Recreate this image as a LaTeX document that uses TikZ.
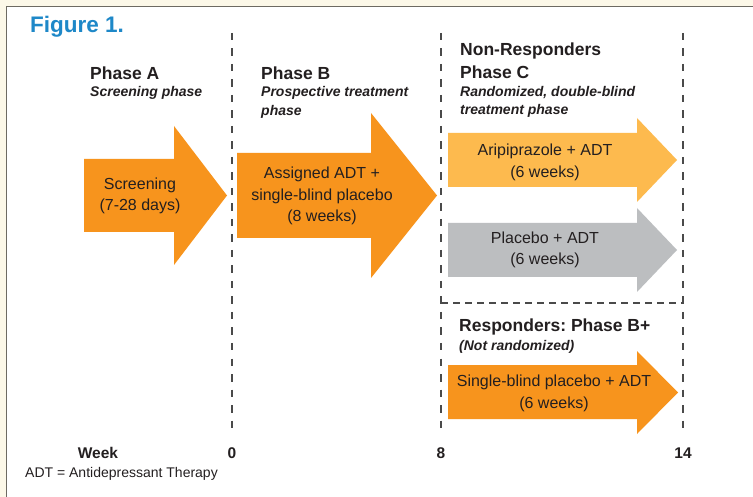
\documentclass[tikz,border=0pt]{standalone}
\usepackage{fontspec}
\setmainfont{Liberation Sans}
\frenchspacing
\definecolor{cream}{HTML}{FCF8E8}
\definecolor{framegrey}{HTML}{6D6A62}
\definecolor{darkor}{HTML}{F7941D}
\definecolor{lightor}{HTML}{FDBA4E}
\definecolor{greyarr}{HTML}{BCBEC0}
\definecolor{titleblue}{HTML}{1E88C8}
\definecolor{dashgrey}{HTML}{4A4A4A}
\definecolor{txt}{HTML}{231F20}
\begin{document}
\begin{tikzpicture}[x=1pt,y=-1pt,
  head/.style={font=\fontsize{17.5}{23}\selectfont\bfseries, anchor=west, inner sep=0pt, align=left, text=txt},
  sub/.style={font=\fontsize{14}{18.5}\selectfont\bfseries\itshape, anchor=west, inner sep=0pt, align=left, text=txt},
  body/.style={font=\fontsize{16}{21.5}\selectfont, align=center, inner sep=0pt, text=txt},
  wk/.style={font=\fontsize{15.5}{18}\selectfont\bfseries, inner sep=0pt, text=txt},
  divider/.style={draw=dashgrey, line width=1.8pt, dash pattern=on 7.5pt off 8pt},
  hdivider/.style={draw=dashgrey, line width=1.8pt, dash pattern=on 7pt off 5pt},
]
\useasboundingbox (0,0) rectangle (753,497);
\fill[cream] (0,0) rectangle (753,497);
\fill[white] (6.5,6.5) rectangle (753,497);
\draw[framegrey, line width=1.5pt] (6.5,497) -- (6.5,6.5) -- (753,6.5);

% title
\node[font=\fontsize{22.5}{24}\selectfont\bfseries, text=titleblue, anchor=west, inner sep=0pt] (title) at (30,27) {Figure 1.};

% dividers
\coordinate (d0t) at (232,33); \coordinate (d0b) at (232,430);
\coordinate (d8t) at (441,33); \coordinate (d8b) at (441,430);
\coordinate (d14t) at (683,33); \coordinate (d14b) at (683,430);
\coordinate (hl) at (441,303); \coordinate (hr) at (683,303);
\draw[divider] (d0t) -- (d0b);
\draw[divider] (d8t) -- (d8b);
\draw[divider] (d14t) -- (d14b);
\draw[hdivider] (hl) -- (hr);

% arrows
\fill[darkor] (84,159) -- (174,159) -- (174,126) -- (227,195.5) -- (174,265) -- (174,232) -- (84,232) -- cycle;
\fill[darkor] (237,153) -- (371,153) -- (371,113) -- (437,195.5) -- (371,278) -- (371,238) -- (237,238) -- cycle;
\fill[lightor] (448,133) -- (637,133) -- (637,118) -- (677,160) -- (637,202) -- (637,187) -- (448,187) -- cycle;
\fill[greyarr] (448,223) -- (637,223) -- (637,208) -- (677,250) -- (637,292) -- (637,277) -- (448,277) -- cycle;
\fill[darkor] (448,365) -- (637,365) -- (637,351) -- (678,392.5) -- (637,434) -- (637,419) -- (448,419) -- cycle;

% headers
\node[head] (phA) at (90,73) {Phase A};
\node[sub] (phAsub) at (90,93) {Screening phase};
\node[head] (phB) at (261,73) {Phase B};
\node[sub, font=\fontsize{14}{19}\selectfont\bfseries\itshape] (phBsub) at (261,102.5) {Prospective treatment\\phase};
\node[head] (phC) at (460,60.5) {Non-Responders\\Phase C};
\node[sub, font=\fontsize{14}{18}\selectfont\bfseries\itshape] (phCsub) at (460,102) {Randomized, double-blind\\treatment phase};
\node[head] (phBp) at (459,327) {Responders: Phase B+};
\node[sub] (phBpsub) at (459,347) {(Not randomized)};

% arrow texts
\node[body] (scr) at (140,196) {Screening\\(7-28 days)};
\node[body] (adt) at (322,196) {Assigned ADT +\\single-blind placebo\\(8 weeks)};
\node[body] (ari) at (545,162.5) {Aripiprazole + ADT\\(6 weeks)};
\node[body] (pla) at (545,250) {Placebo + ADT\\(6 weeks)};
\node[body] (sbp) at (554,393.5) {Single-blind placebo + ADT\\(6 weeks)};

% week axis
\node[wk] (week) at (98,453) {Week};
\node[wk] (w0) at (232,453) {0};
\node[wk] (w8) at (441,453) {8};
\node[wk] (w14) at (683,453) {14};

% footnote
\node[font=\fontsize{14}{16}\selectfont, anchor=west, inner sep=0pt, text=txt] (foot) at (25,474) {ADT = Antidepressant Therapy};
\end{tikzpicture}
\end{document}
